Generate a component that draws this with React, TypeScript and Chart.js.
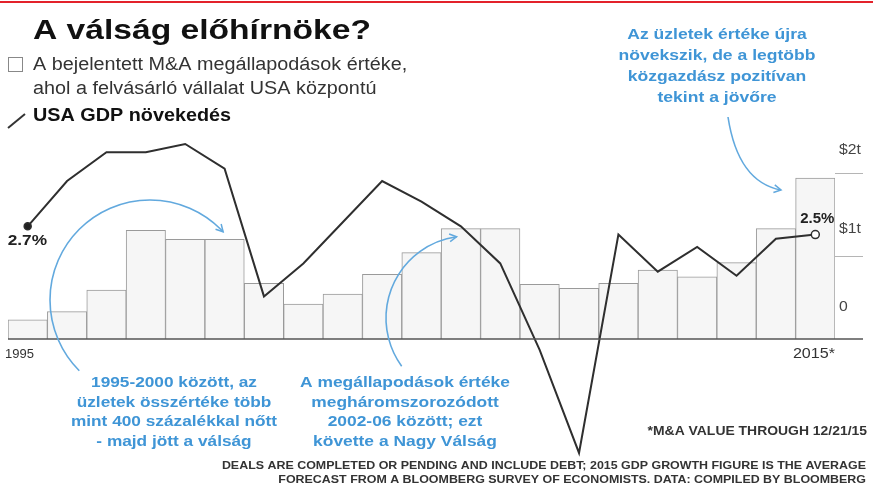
import React, { useEffect, useRef } from 'react';
import { Chart, registerables } from 'chart.js';

Chart.register(...registerables);

const years = ['1995','1996','1997','1998','1999','2000','2001','2002','2003','2004','2005','2006','2007','2008','2009','2010','2011','2012','2013','2014','2015'];
// announced M&A value, US acquirers ($ trillion)
const dealValues = [0.23,0.33,0.59,1.31,1.20,1.20,0.67,0.42,0.54,0.78,1.04,1.33,1.33,0.66,0.61,0.67,0.83,0.75,0.92,1.33,1.94];
// US GDP growth (%)
const gdpGrowth = [2.7,3.8,4.5,4.5,4.7,4.1,1.0,1.8,2.8,3.8,3.3,2.7,1.8,-0.3,-2.8,2.5,1.6,2.2,1.5,2.4,2.5];
const dealTicks = [0, 1, 2];
const dealTickLabels = ['0', '$1t', '$2t'];
const firstYearLabel = '1995';
const lastYearLabel = '2015*';

const FONT = '"Liberation Sans", Arial, Helvetica, sans-serif';
const BLUE_TEXT = '#3f95d6';
const BLUE_LINE = '#62a9de';

function txt(ctx: CanvasRenderingContext2D, s: string, x: number, y: number, font: string, color: string, align: CanvasTextAlign = 'left', baseline: CanvasTextBaseline = 'middle', sx = 1) {
  ctx.save();
  ctx.font = font;
  ctx.fillStyle = color;
  ctx.textAlign = align;
  ctx.textBaseline = baseline;
  ctx.translate(x, y);
  ctx.scale(sx, 1);
  ctx.fillText(s, 0, 0);
  ctx.restore();
}

function arrowHead(ctx: CanvasRenderingContext2D, x: number, y: number, ang: number, color: string) {
  const L = 8;
  const spread = 0.5;
  ctx.save();
  ctx.strokeStyle = color;
  ctx.lineWidth = 1.5;
  ctx.beginPath();
  ctx.moveTo(x - L * Math.cos(ang - spread), y - L * Math.sin(ang - spread));
  ctx.lineTo(x, y);
  ctx.lineTo(x - L * Math.cos(ang + spread), y - L * Math.sin(ang + spread));
  ctx.stroke();
  ctx.restore();
}

const deco = {
  id: 'deco',
  beforeDraw(chart: any) {
    const ctx = chart.ctx as CanvasRenderingContext2D;
    ctx.save();
    ctx.fillStyle = '#ffffff';
    ctx.fillRect(0, 0, chart.width, chart.height);
    ctx.fillStyle = '#e3222b';
    ctx.fillRect(0, 1, chart.width, 2);
    ctx.restore();

    const yM = chart.scales.yM;
    const area = chart.chartArea;
    ctx.save();
    ctx.strokeStyle = '#b5b5b5';
    ctx.lineWidth = 1;
    dealTicks.forEach((v) => {
      if (v === 0) return;
      const y = Math.round(yM.getPixelForValue(v)) + 0.5;
      ctx.beginPath();
      ctx.moveTo(area.right, y);
      ctx.lineTo(863, y);
      ctx.stroke();
    });
    ctx.restore();
  },
  afterDatasetsDraw(chart: any) {
    const ctx = chart.ctx as CanvasRenderingContext2D;
    const yM = chart.scales.yM;
    const area = chart.chartArea;
    const y0 = yM.getPixelForValue(0);
    ctx.save();
    ctx.strokeStyle = '#555';
    ctx.lineWidth = 1.5;
    ctx.beginPath();
    ctx.moveTo(area.left, y0);
    ctx.lineTo(863, y0);
    ctx.stroke();
    ctx.restore();
  },
  afterDraw(chart: any) {
    const ctx = chart.ctx as CanvasRenderingContext2D;
    const yM = chart.scales.yM;
    const area = chart.chartArea;
    const y0 = yM.getPixelForValue(0);

    // title & legend
    txt(ctx, 'A válság előhírnöke?', 33, 39, `bold 28px ${FONT}`, '#111', 'left', 'alphabetic', 1.2);
    ctx.save();
    ctx.strokeStyle = '#888';
    ctx.lineWidth = 1;
    ctx.strokeRect(8.5, 57.5, 14, 14);
    ctx.strokeStyle = '#333';
    ctx.lineWidth = 2;
    ctx.beginPath();
    ctx.moveTo(8, 128);
    ctx.lineTo(25, 114);
    ctx.stroke();
    ctx.restore();
    txt(ctx, 'A bejelentett M&A megállapodások értéke,', 33, 70, `18px ${FONT}`, '#333', 'left', 'alphabetic', 1.1);
    txt(ctx, 'ahol a felvásárló vállalat USA központú', 33, 94, `18px ${FONT}`, '#333', 'left', 'alphabetic', 1.1);
    txt(ctx, 'USA GDP növekedés', 33, 121, `bold 18px ${FONT}`, '#111', 'left', 'alphabetic', 1.1);

    // right axis labels
    dealTicks.forEach((v, i) => {
      const y = yM.getPixelForValue(0.386 + 0.946 * v);
      txt(ctx, dealTickLabels[i], area.right + 4, y, `15px ${FONT}`, '#444', 'left', 'middle', 1.05);
    });

    // year labels
    txt(ctx, firstYearLabel, area.left - 3, y0 + 15, `13px ${FONT}`, '#333', 'left', 'middle');
    txt(ctx, lastYearLabel, area.right, y0 + 15, `14px ${FONT}`, '#333', 'right', 'middle', 1.15);

    // GDP endpoint labels
    const meta = chart.getDatasetMeta(1);
    const p0 = meta.data[0];
    const pN = meta.data[meta.data.length - 1];
    txt(ctx, `${gdpGrowth[0]}%`, p0.x - 20, p0.y + 15, `bold 15px ${FONT}`, '#222', 'left', 'middle', 1.15);
    txt(ctx, `${gdpGrowth[gdpGrowth.length - 1]}%`, pN.x + 2, pN.y - 16, `bold 15px ${FONT}`, '#222', 'center', 'middle');

    // annotations (blue)
    const bFont = `bold 15px ${FONT}`;
    ['Az üzletek értéke újra', 'növekszik, de a legtöbb', 'közgazdász pozitívan', 'tekint a jövőre'].forEach((s, i) => {
      txt(ctx, s, 717, 35 + i * 21, bFont, BLUE_TEXT, 'center', 'middle', 1.17);
    });
    ['1995-2000 között, az', 'üzletek összértéke több', 'mint 400 százalékkal nőtt', '- majd jött a válság'].forEach((s, i) => {
      txt(ctx, s, 174, 383 + i * 19.5, bFont, BLUE_TEXT, 'center', 'middle', 1.15);
    });
    ['A megállapodások értéke', 'megháromszorozódott', '2002-06 között; ezt', 'követte a Nagy Válság'].forEach((s, i) => {
      txt(ctx, s, 405, 383 + i * 19.5, bFont, BLUE_TEXT, 'center', 'middle', 1.16);
    });

    const deg = Math.PI / 180;
    ctx.save();
    ctx.strokeStyle = BLUE_LINE;
    ctx.lineWidth = 1.6;
    ctx.beginPath();
    ctx.arc(150, 300, 100, 135 * deg, 317 * deg);
    ctx.stroke();
    ctx.beginPath();
    ctx.arc(468, 318, 82, 144 * deg, 262 * deg);
    ctx.stroke();
    ctx.beginPath();
    ctx.moveTo(728, 117);
    ctx.quadraticCurveTo(738, 182, 781, 190);
    ctx.stroke();
    ctx.restore();
    {
      const a = 317 * deg;
      arrowHead(ctx, 150 + 100 * Math.cos(a), 300 + 100 * Math.sin(a), a + Math.PI / 2, BLUE_LINE);
      const b = 262 * deg;
      arrowHead(ctx, 468 + 82 * Math.cos(b), 318 + 82 * Math.sin(b), b + Math.PI / 2, BLUE_LINE);
      arrowHead(ctx, 781, 190, Math.atan2(8, 43), BLUE_LINE);
    }

    // notes
    txt(ctx, '*M&A VALUE THROUGH 12/21/15', 867, 432, `bold 12px ${FONT}`, '#333', 'right', 'middle', 1.16);
    txt(ctx, 'DEALS ARE COMPLETED OR PENDING AND INCLUDE DEBT; 2015 GDP GROWTH FIGURE IS THE AVERAGE', 866, 466, `bold 11px ${FONT}`, '#333', 'right', 'middle', 1.13);
    txt(ctx, 'FORECAST FROM A BLOOMBERG SURVEY OF ECONOMISTS. DATA: COMPILED BY BLOOMBERG', 866, 480, `bold 11px ${FONT}`, '#333', 'right', 'middle', 1.13);
  },
};

export default function App() {
  const ref = useRef<HTMLCanvasElement | null>(null);
  useEffect(() => {
    if (!ref.current) return;
    const n = gdpGrowth.length;
    const chart = new Chart(ref.current, {
      type: 'bar',
      data: {
        labels: years,
        datasets: [
          {
            type: 'bar',
            label: 'M&A',
            data: dealValues,
            yAxisID: 'yM',
            backgroundColor: '#f6f6f6',
            borderColor: '#9a9a9a',
            borderWidth: 1,
            barPercentage: 1,
            categoryPercentage: 1,
            order: 2,
          } as any,
          {
            type: 'line',
            label: 'GDP',
            data: gdpGrowth,
            yAxisID: 'yG',
            borderColor: '#2f2f2f',
            borderWidth: 2,
            tension: 0,
            pointRadius: gdpGrowth.map((_, i) => (i === 0 ? 3.5 : i === n - 1 ? 4 : 0)),
            pointBackgroundColor: gdpGrowth.map((_, i) => (i === 0 ? '#222' : '#fff')),
            pointBorderColor: '#2f2f2f',
            pointBorderWidth: 1.5,
            order: 1,
          } as any,
        ],
      },
      options: {
        responsive: false,
        animation: false,
        layout: { padding: { left: 8, right: 38, top: 100, bottom: 30 } },
        plugins: { legend: { display: false }, tooltip: { enabled: false } },
        scales: {
          x: { display: false, offset: true, grid: { display: false } },
          yM: { display: false, position: 'right', min: -1.458, max: 2.88 },
          yG: { display: false, position: 'left', min: -2.971, max: 5.767 },
        },
      },
      plugins: [deco],
    });
    return () => chart.destroy();
  }, []);
  return (
    <div style={{ position: 'absolute', left: 0, top: 0, width: 873, height: 490, background: '#fff' }}>
      <canvas ref={ref} width={873} height={490} style={{ display: 'block' }} />
    </div>
  );
}
